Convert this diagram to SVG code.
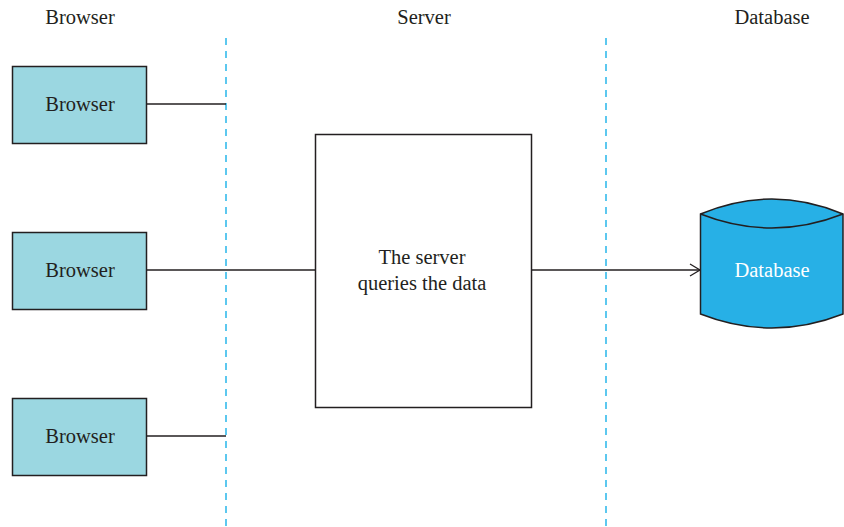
<svg xmlns="http://www.w3.org/2000/svg" width="844" height="527" viewBox="0 0 844 527">
<defs>
<style>
text{font-family:"Liberation Serif","Times New Roman",serif;font-size:20.5px;fill:#231f20;text-anchor:middle;dominant-baseline:central}
.box{fill:#9bd7e1;stroke:#231f20;stroke-width:1.5}
.srv{fill:#fff;stroke:#231f20;stroke-width:1.5}
.db{fill:#27b0e6;stroke:#231f20;stroke-width:1.5}
.conn{stroke:#231f20;stroke-width:1.3;fill:none}
.lane{stroke:#5cc8ef;stroke-width:2;stroke-dasharray:7,6;fill:none}
</style>
<marker id="arr" markerWidth="14" markerHeight="14" refX="11" refY="7" orient="auto" markerUnits="userSpaceOnUse">
<path d="M1,1 L11,7 L1,13" fill="none" stroke="#231f20" stroke-width="1.3"/>
</marker>
</defs>
<rect width="844" height="527" fill="#fff"/>
<g id="lanes">
<line class="lane" x1="226" y1="38" x2="226" y2="527"/>
<line class="lane" x1="606" y1="38" x2="606" y2="527"/>
<text x="80" y="17">Browser</text>
<text x="424" y="17">Server</text>
<text x="772" y="17">Database</text>
</g>
<g id="connectors">
<line class="conn" x1="147" y1="104" x2="226" y2="104"/>
<line class="conn" x1="147" y1="270" x2="315" y2="270"/>
<line class="conn" x1="147" y1="436" x2="226" y2="436"/>
<line class="conn" x1="531" y1="270" x2="700" y2="270" marker-end="url(#arr)"/>
</g>
<g id="browser1"><rect class="box" x="12.5" y="66.5" width="134" height="77"/><text x="80" y="104">Browser</text></g>
<g id="browser2"><rect class="box" x="12.5" y="232.5" width="134" height="77"/><text x="80" y="270">Browser</text></g>
<g id="browser3"><rect class="box" x="12.5" y="398.5" width="134" height="77"/><text x="80" y="436">Browser</text></g>
<g id="server"><rect class="srv" x="315.5" y="134.5" width="216" height="273"/><text x="422" y="257">The server</text><text x="422" y="283">queries the data</text></g>
<g id="database">
<path class="db" d="M700.5,214 Q772,184 843,214 L843,314 Q772,342 700.5,314 Z"/>
<path class="db" d="M700.5,214 Q772,242 843,214" fill="none"/>
<text x="772" y="270" style="fill:#fff">Database</text>
</g>
</svg>
